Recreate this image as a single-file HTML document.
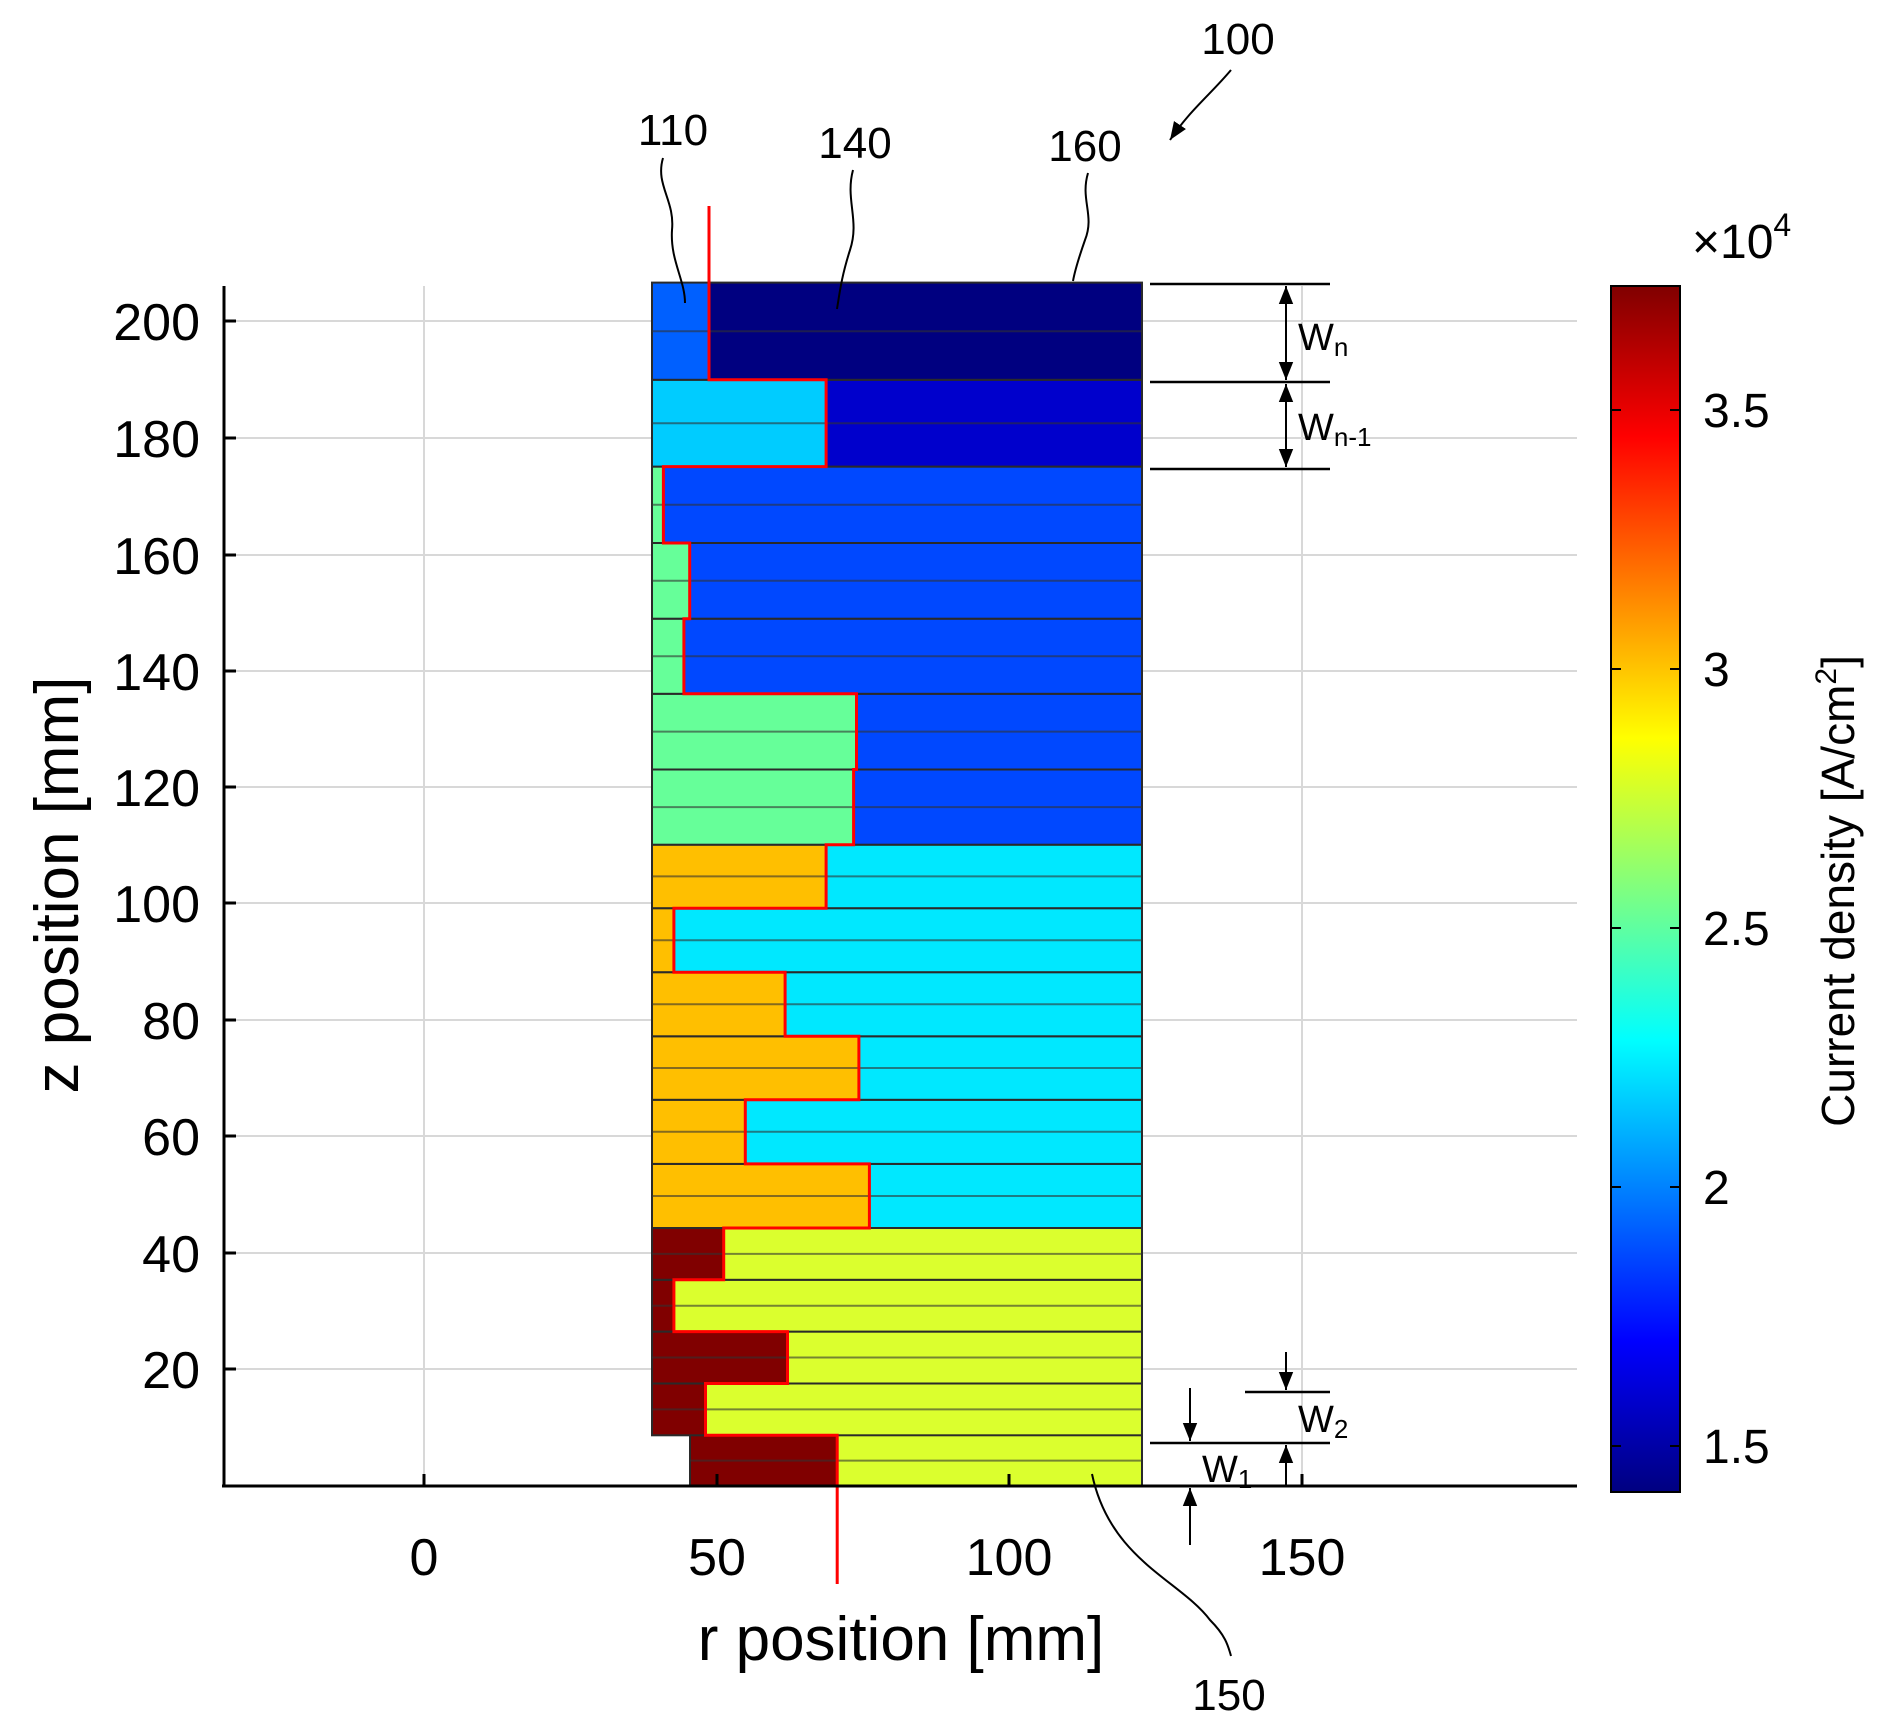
<!DOCTYPE html>
<html><head><meta charset="utf-8"><style>html,body{margin:0;padding:0;background:#fff}svg{display:block}text{font-family:"Liberation Sans",sans-serif}</style></head>
<body>
<svg width="1892" height="1734" viewBox="0 0 1892 1734" xmlns="http://www.w3.org/2000/svg">
<defs>
<linearGradient id="jet" x1="0" y1="1" x2="0" y2="0">
<stop offset="0" stop-color="#000080"/><stop offset="0.125" stop-color="#0000ff"/><stop offset="0.375" stop-color="#00ffff"/><stop offset="0.625" stop-color="#ffff00"/><stop offset="0.875" stop-color="#ff0000"/><stop offset="1" stop-color="#800000"/>
</linearGradient>
<marker id="ah" viewBox="0 0 10 10" refX="10" refY="5" markerWidth="9" markerHeight="12" orient="auto-start-reverse"><path d="M0,1 L10,5 L0,9 z" fill="#000"/></marker>
</defs>
<!-- grid -->
<g stroke="#d8d8d8" stroke-width="2">
<line x1="424" y1="286" x2="424" y2="1486"/><line x1="717" y1="286" x2="717" y2="1486"/><line x1="1009" y1="286" x2="1009" y2="1486"/><line x1="1302" y1="286" x2="1302" y2="1486"/>
<line x1="224" y1="1369" x2="1577" y2="1369"/><line x1="224" y1="1253" x2="1577" y2="1253"/><line x1="224" y1="1136" x2="1577" y2="1136"/><line x1="224" y1="1020" x2="1577" y2="1020"/><line x1="224" y1="903" x2="1577" y2="903"/><line x1="224" y1="787" x2="1577" y2="787"/><line x1="224" y1="671" x2="1577" y2="671"/><line x1="224" y1="555" x2="1577" y2="555"/><line x1="224" y1="438" x2="1577" y2="438"/><line x1="224" y1="321" x2="1577" y2="321"/>
</g>
<!-- bars -->
<g stroke="#2a2a2a" stroke-width="2">
<rect x="690" y="1435" width="147" height="51" fill="#800000"/><rect x="837" y="1435" width="305" height="51" fill="#dbff2e"/>
<rect x="652" y="1383.5" width="53.5" height="51.8" fill="#800000"/><rect x="705.5" y="1383.5" width="436.5" height="51.8" fill="#dbff2e"/>
<rect x="652" y="1331.6" width="135.5" height="51.9" fill="#800000"/><rect x="787.5" y="1331.6" width="354.5" height="51.9" fill="#dbff2e"/>
<rect x="652" y="1279.8" width="22" height="51.8" fill="#800000"/><rect x="674" y="1279.8" width="468" height="51.8" fill="#dbff2e"/>
<rect x="652" y="1228" width="71.7" height="51.8" fill="#800000"/><rect x="723.7" y="1228" width="418.3" height="51.8" fill="#dbff2e"/>
<rect x="652" y="1163.9" width="217.4" height="64.1" fill="#ffbf00"/><rect x="869.4" y="1163.9" width="272.6" height="64.1" fill="#00e8ff"/>
<rect x="652" y="1099.8" width="93.3" height="64.1" fill="#ffbf00"/><rect x="745.3" y="1099.8" width="396.7" height="64.1" fill="#00e8ff"/>
<rect x="652" y="1036.3" width="206.9" height="63.5" fill="#ffbf00"/><rect x="858.9" y="1036.3" width="283.1" height="63.5" fill="#00e8ff"/>
<rect x="652" y="972.2" width="133.1" height="64.1" fill="#ffbf00"/><rect x="785.1" y="972.2" width="356.9" height="64.1" fill="#00e8ff"/>
<rect x="652" y="908.2" width="21.9" height="64" fill="#ffbf00"/><rect x="673.9" y="908.2" width="468.1" height="64" fill="#00e8ff"/>
<rect x="652" y="844.7" width="174.1" height="63.5" fill="#ffbf00"/><rect x="826.1" y="844.7" width="315.9" height="63.5" fill="#00e8ff"/>
<rect x="652" y="769.5" width="201.6" height="75.2" fill="#66ff99"/><rect x="853.6" y="769.5" width="288.4" height="75.2" fill="#0048ff"/>
<rect x="652" y="693.8" width="204.5" height="75.7" fill="#66ff99"/><rect x="856.5" y="693.8" width="285.5" height="75.7" fill="#0048ff"/>
<rect x="652" y="618.7" width="31.9" height="75.1" fill="#66ff99"/><rect x="683.9" y="618.7" width="458.1" height="75.1" fill="#0048ff"/>
<rect x="652" y="543" width="37.7" height="75.7" fill="#66ff99"/><rect x="689.7" y="543" width="452.3" height="75.7" fill="#0048ff"/>
<rect x="652" y="466.6" width="11.4" height="76.4" fill="#66ff99"/><rect x="663.4" y="466.6" width="478.6" height="76.4" fill="#0048ff"/>
<rect x="652" y="379.8" width="174.1" height="86.8" fill="#00ccff"/><rect x="826.1" y="379.8" width="315.9" height="86.8" fill="#0000cc"/>
<rect x="652" y="282.6" width="57" height="97.2" fill="#0060ff"/><rect x="709" y="282.6" width="433" height="97.2" fill="#000080"/>
</g>
<!-- sub-row lines -->
<g stroke="#333" stroke-width="2" opacity="0.6">
<line x1="690" y1="1460.6" x2="1142" y2="1460.6"/><line x1="652" y1="1409.4" x2="1142" y2="1409.4"/><line x1="652" y1="1357.5" x2="1142" y2="1357.5"/><line x1="652" y1="1305.7" x2="1142" y2="1305.7"/><line x1="652" y1="1253.9" x2="1142" y2="1253.9"/><line x1="652" y1="1196" x2="1142" y2="1196"/><line x1="652" y1="1131.8" x2="1142" y2="1131.8"/><line x1="652" y1="1068" x2="1142" y2="1068"/><line x1="652" y1="1004.2" x2="1142" y2="1004.2"/><line x1="652" y1="940.2" x2="1142" y2="940.2"/><line x1="652" y1="876.4" x2="1142" y2="876.4"/><line x1="652" y1="807.1" x2="1142" y2="807.1"/><line x1="652" y1="731.6" x2="1142" y2="731.6"/><line x1="652" y1="656.2" x2="1142" y2="656.2"/><line x1="652" y1="580.8" x2="1142" y2="580.8"/><line x1="652" y1="504.8" x2="1142" y2="504.8"/><line x1="652" y1="423.2" x2="1142" y2="423.2"/><line x1="652" y1="331.2" x2="1142" y2="331.2"/>
</g>
<!-- red line -->
<polyline fill="none" stroke="#ff0000" stroke-width="3" points="709,206 709,379.8 826.1,379.8 826.1,466.6 663.4,466.6 663.4,543 689.7,543 689.7,618.7 683.9,618.7 683.9,693.8 856.5,693.8 856.5,769.5 853.6,769.5 853.6,844.7 826.1,844.7 826.1,908.2 673.9,908.2 673.9,972.2 785.1,972.2 785.1,1036.3 858.9,1036.3 858.9,1099.8 745.3,1099.8 745.3,1163.9 869.4,1163.9 869.4,1228 723.7,1228 723.7,1279.8 673.9,1279.8 673.9,1331.6 787.5,1331.6 787.5,1383.5 705.5,1383.5 705.5,1435.3 837.2,1435.3 837.2,1584"/>
<!-- axes -->
<g stroke="#000" stroke-width="3">
<line x1="224" y1="286" x2="224" y2="1487"/><line x1="222" y1="1486" x2="1577" y2="1486"/>
</g>
<g stroke="#000" stroke-width="3">
<line x1="224" y1="1369" x2="236" y2="1369"/><line x1="224" y1="1253" x2="236" y2="1253"/><line x1="224" y1="1136" x2="236" y2="1136"/><line x1="224" y1="1020" x2="236" y2="1020"/><line x1="224" y1="903" x2="236" y2="903"/><line x1="224" y1="787" x2="236" y2="787"/><line x1="224" y1="671" x2="236" y2="671"/><line x1="224" y1="555" x2="236" y2="555"/><line x1="224" y1="438" x2="236" y2="438"/><line x1="224" y1="321" x2="236" y2="321"/>
<line x1="424" y1="1486" x2="424" y2="1474"/><line x1="717" y1="1486" x2="717" y2="1474"/><line x1="1009" y1="1486" x2="1009" y2="1474"/><line x1="1302" y1="1486" x2="1302" y2="1474"/>
</g>
<g font-size="52" fill="#000" text-anchor="end">
<text x="200" y="1388">20</text><text x="200" y="1272">40</text><text x="200" y="1155">60</text><text x="200" y="1039">80</text><text x="200" y="922">100</text><text x="200" y="806">120</text><text x="200" y="690">140</text><text x="200" y="574">160</text><text x="200" y="457">180</text><text x="200" y="340">200</text>
</g>
<g font-size="52" fill="#000" text-anchor="middle">
<text x="424" y="1575">0</text><text x="717" y="1575">50</text><text x="1009" y="1575">100</text><text x="1302" y="1575">150</text>
</g>
<text x="901" y="1660" font-size="62" text-anchor="middle">r position [mm]</text>
<text transform="translate(78,885) rotate(-90)" font-size="62" text-anchor="middle">z position [mm]</text>
<!-- colorbar -->
<rect x="1619" y="286" width="69" height="1206" fill="url(#jet)" stroke="#000" stroke-width="2" transform="translate(-8,0)"/>
<g stroke="#000" stroke-width="2" transform="translate(-8,0)">
<line x1="1619" y1="410" x2="1629" y2="410"/><line x1="1678" y1="410" x2="1688" y2="410"/>
<line x1="1619" y1="669" x2="1629" y2="669"/><line x1="1678" y1="669" x2="1688" y2="669"/>
<line x1="1619" y1="928" x2="1629" y2="928"/><line x1="1678" y1="928" x2="1688" y2="928"/>
<line x1="1619" y1="1187" x2="1629" y2="1187"/><line x1="1678" y1="1187" x2="1688" y2="1187"/>
<line x1="1619" y1="1446" x2="1629" y2="1446"/><line x1="1678" y1="1446" x2="1688" y2="1446"/>
</g>
<g font-size="48" fill="#000">
<text x="1703" y="427">3.5</text><text x="1703" y="686">3</text><text x="1703" y="945">2.5</text><text x="1703" y="1204">2</text><text x="1703" y="1463">1.5</text>
</g>
<text x="1692" y="258" font-size="48">×10<tspan font-size="32" dy="-22">4</tspan></text>
<text transform="translate(1854,891) rotate(-90)" font-size="46" text-anchor="middle">Current density [A/cm<tspan font-size="30" dy="-18">2</tspan><tspan dy="18">]</tspan></text>
<!-- annotations -->
<g font-size="44" fill="#000" text-anchor="middle">
<text x="1238" y="54">100</text><text x="673" y="145">110</text><text x="855" y="158">140</text><text x="1085" y="161">160</text><text x="1229" y="1710">150</text>
</g>
<g fill="none" stroke="#000" stroke-width="2">
<path d="M663,158 C655,185 675,200 672,230 C670,260 685,280 685,303"/>
<path d="M853,170 C845,200 860,220 850,250 C842,275 840,290 837,309"/>
<path d="M1088,173 C1080,200 1095,215 1085,240 C1078,260 1075,270 1073,281"/>
<path d="M1092,1474 C1110,1560 1180,1580 1210,1620 C1225,1635 1228,1645 1231,1656"/>
<path d="M1231,70 C1210,95 1190,110 1170,140" marker-end="url(#ah)"/>
</g>
<g stroke="#000" stroke-width="2.5">
<line x1="1150" y1="284" x2="1330" y2="284"/><line x1="1150" y1="382" x2="1330" y2="382"/><line x1="1150" y1="469" x2="1330" y2="469"/>
<line x1="1150" y1="1443" x2="1330" y2="1443"/><line x1="1245" y1="1392" x2="1330" y2="1392"/>
</g>
<g stroke="#000" stroke-width="2" fill="none">
<line x1="1286" y1="286" x2="1286" y2="380" marker-start="url(#ah)" marker-end="url(#ah)"/>
<line x1="1286" y1="384" x2="1286" y2="467" marker-start="url(#ah)" marker-end="url(#ah)"/>
<line x1="1190" y1="1388" x2="1190" y2="1441" marker-end="url(#ah)"/>
<line x1="1190" y1="1545" x2="1190" y2="1488" marker-end="url(#ah)"/>
<line x1="1286" y1="1352" x2="1286" y2="1390" marker-end="url(#ah)"/>
<line x1="1286" y1="1485" x2="1286" y2="1445" marker-end="url(#ah)"/>
</g>
<g font-size="38" fill="#000">
<text x="1298" y="350">W<tspan font-size="26" dy="6">n</tspan></text>
<text x="1298" y="440">W<tspan font-size="26" dy="6">n-1</tspan></text>
<text x="1298" y="1432">W<tspan font-size="26" dy="6">2</tspan></text>
<text x="1202" y="1482">W<tspan font-size="26" dy="6">1</tspan></text>
</g>
</svg>
</body></html>
